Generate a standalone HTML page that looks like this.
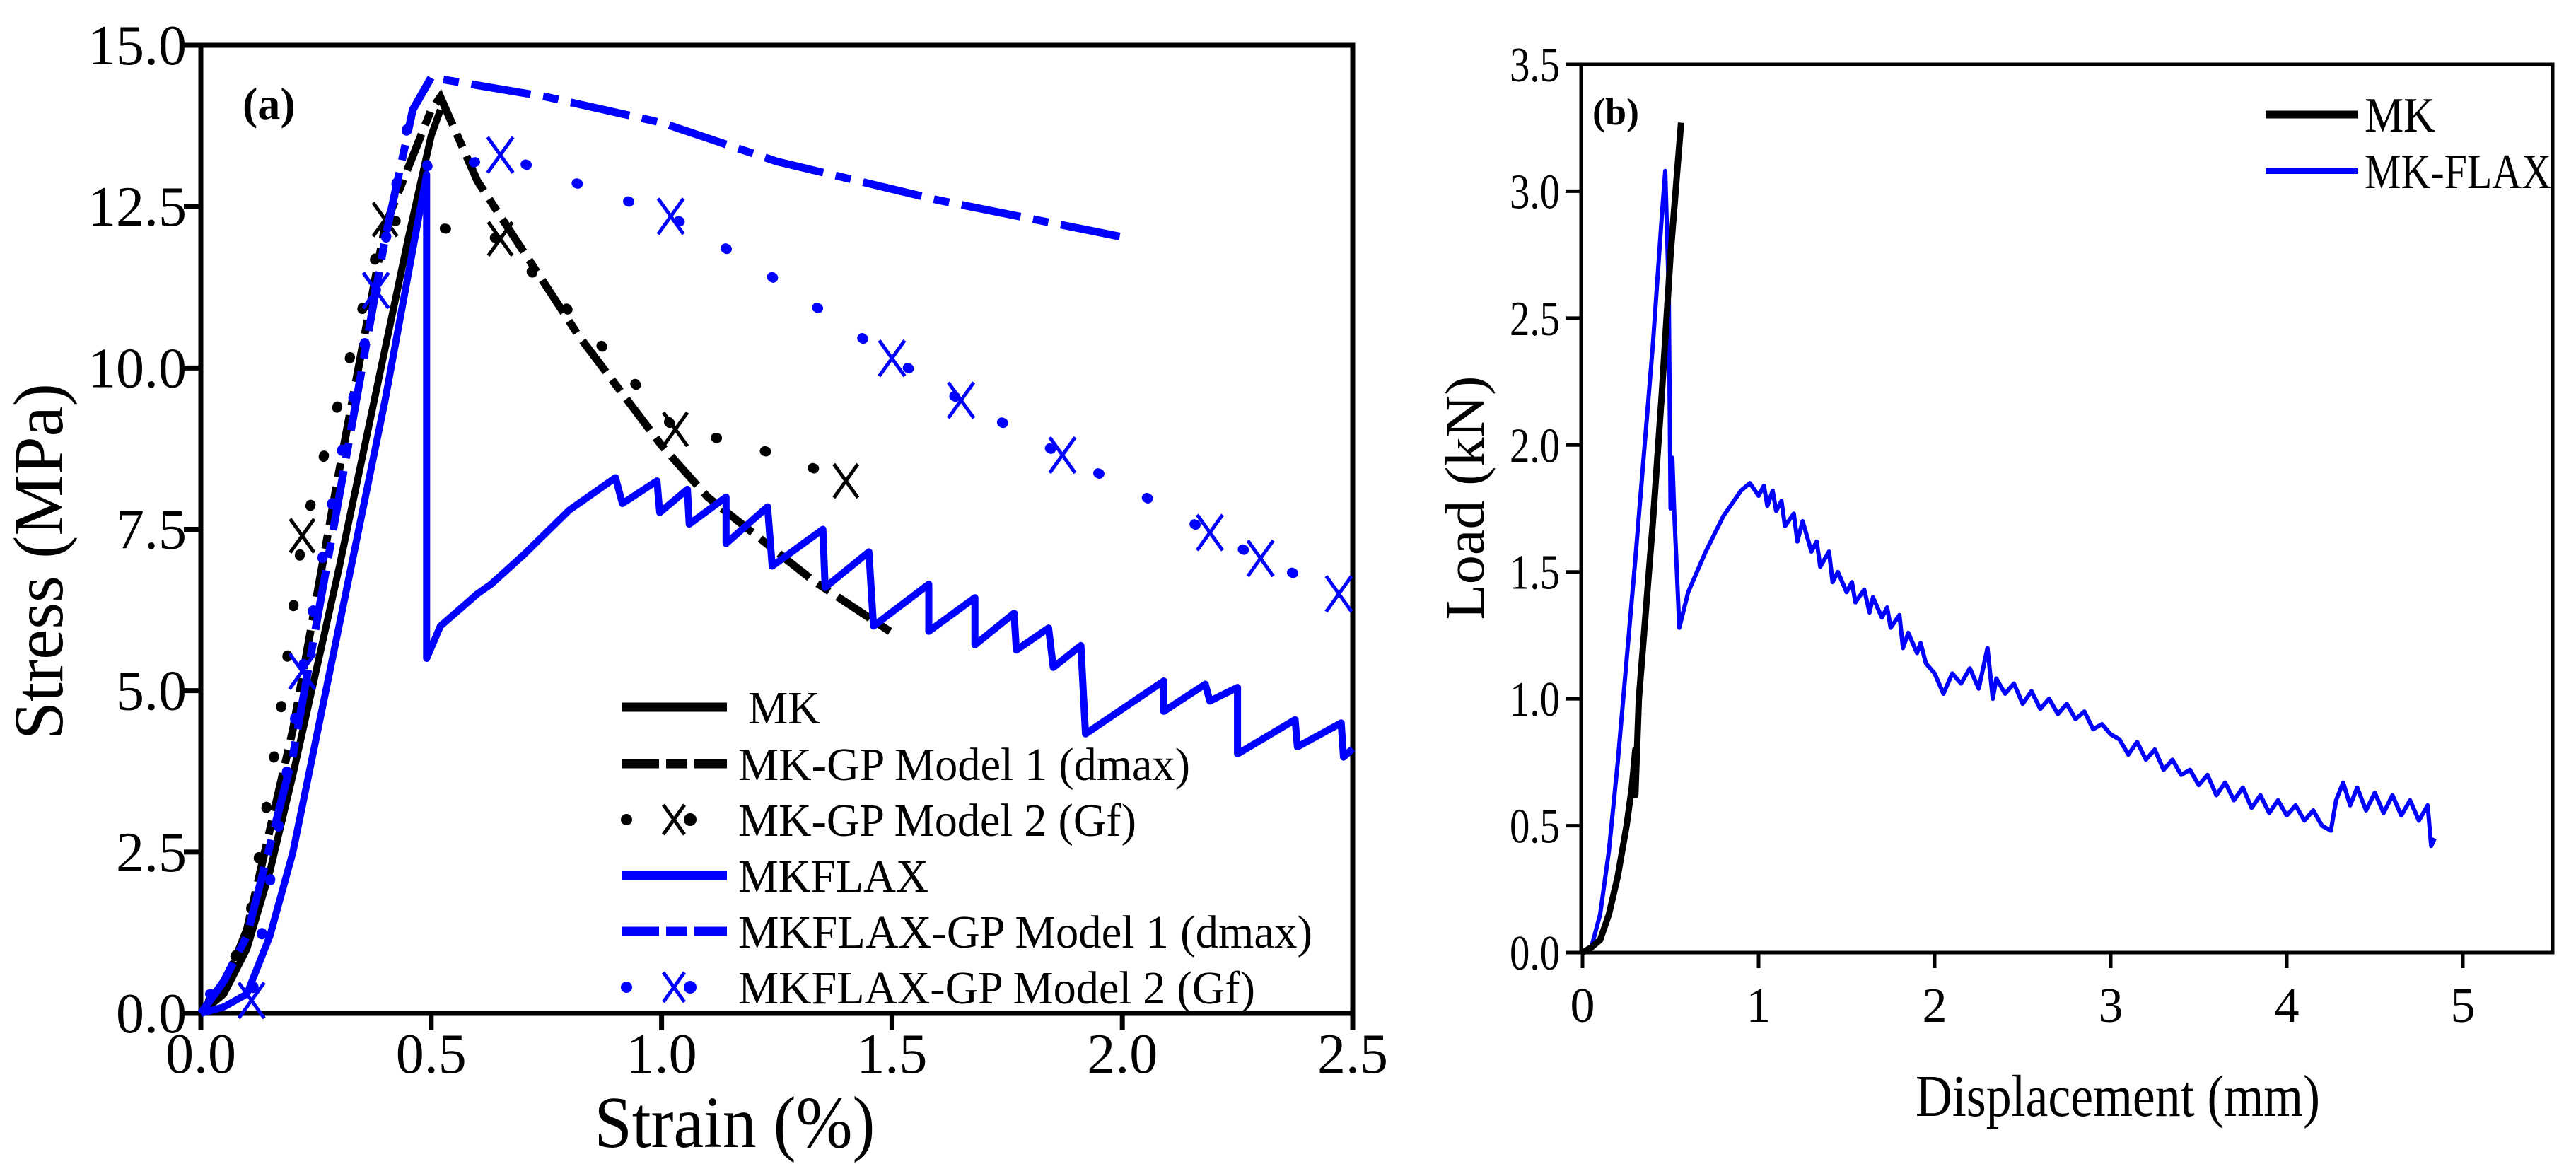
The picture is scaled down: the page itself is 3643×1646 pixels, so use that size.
<!DOCTYPE html>
<html><head><meta charset="utf-8">
<style>
html,body{margin:0;padding:0;background:#fff;}
svg{display:block;font-family:"Liberation Serif",serif;}
</style></head>
<body>
<svg id="chart" width="3643" height="1646" viewBox="0 0 3643 1646" xmlns="http://www.w3.org/2000/svg">
<rect width="3643" height="1646" fill="#fff"/>
<g id="pa"></g>
<g id="pb"></g>
</svg>
<script>
// ---------- Panel (a) data: strain (%) / stress (MPa) ----------
const aXTicks = [0.0, 0.5, 1.0, 1.5, 2.0, 2.5];
const aYTicks = [0.0, 2.5, 5.0, 7.5, 10.0, 12.5, 15.0];
const mkX = [0, 0.05, 0.1, 0.15, 0.2, 0.3, 0.4, 0.45, 0.5, 0.52];
const mkY = [0, 0.3, 1.0, 2.2, 3.7, 6.9, 10.3, 12.0, 13.6, 14.0];
const mkM1X = [0, 0.05, 0.1, 0.2, 0.3, 0.4, 0.5, 0.52, 0.6, 0.82, 1.0, 1.1, 1.33, 1.51];
const mkM1Y = [0, 0.4, 1.3, 4.4, 8.4, 12.2, 14.0, 14.2, 12.9, 10.5, 8.8, 8.0, 6.7, 5.85];
const mkM2X = [0.02, 0.1, 0.17, 0.22, 0.3, 0.4, 0.5, 0.65, 0.85, 1.03, 1.13, 1.26, 1.4];
const mkM2Y = [0.2, 1.2, 4.5, 7.4, 9.5, 12.3, 12.2, 12.0, 10.5, 9.05, 8.9, 8.64, 8.25];
const mkM2MarkX = [0.22, 0.4, 0.65, 1.03, 1.4];
const mkM2MarkY = [7.4, 12.3, 12.0, 9.05, 8.25];
const flaxX = [0, 0.05, 0.1, 0.15, 0.2, 0.3, 0.4, 0.49, 0.49, 0.52, 0.6, 0.63, 0.7, 0.8, 0.9, 0.915, 0.99, 0.996, 1.056, 1.06, 1.14, 1.14, 1.23, 1.24, 1.35, 1.355, 1.45, 1.46, 1.58, 1.58, 1.68, 1.68, 1.765, 1.77, 1.84, 1.85, 1.91, 1.92, 2.09, 2.09, 2.18, 2.19, 2.25, 2.25, 2.375, 2.38, 2.475, 2.48, 2.5];
const flaxY = [0, 0.1, 0.3, 1.2, 2.5, 6.0, 9.5, 13.0, 5.5, 6.0, 6.5, 6.65, 7.1, 7.8, 8.3, 7.9, 8.25, 7.76, 8.12, 7.58, 8.0, 7.28, 7.85, 6.93, 7.5, 6.6, 7.15, 6.0, 6.65, 5.92, 6.44, 5.71, 6.2, 5.63, 5.97, 5.36, 5.7, 4.33, 5.15, 4.68, 5.1, 4.84, 5.05, 4.02, 4.55, 4.13, 4.5, 3.97, 4.1];
const flaxM1X = [0, 0.05, 0.1, 0.2, 0.3, 0.4, 0.46, 0.5, 0.75, 1.0, 1.25, 1.6, 2.02];
const flaxM1Y = [0, 0.5, 1.2, 4.0, 8.0, 12.0, 14.0, 14.5, 14.2, 13.8, 13.2, 12.6, 12.0];
const flaxM2X = [0.02, 0.11, 0.16, 0.22, 0.3, 0.38, 0.45, 0.5, 0.65, 0.8, 1.02, 1.2, 1.5, 1.65, 1.87, 2.05, 2.19, 2.3, 2.47];
const flaxM2Y = [0.3, 0.2, 2.5, 5.3, 8.5, 11.2, 13.8, 13.0, 13.3, 12.9, 12.35, 11.6, 10.15, 9.5, 8.65, 8.0, 7.45, 7.05, 6.5];
const flaxM2MarkX = [0.11, 0.22, 0.38, 0.65, 1.02, 1.5, 1.65, 1.87, 2.19, 2.3, 2.47];
const flaxM2MarkY = [0.2, 5.3, 11.2, 13.3, 12.35, 10.15, 9.5, 8.65, 7.45, 7.05, 6.5];
const aLegendLabels = ["MK", "MK-GP Model 1 (dmax)", "MK-GP Model 2 (Gf)", "MKFLAX", "MKFLAX-GP Model 1 (dmax)", "MKFLAX-GP Model 2 (Gf)"];

// ---------- Panel (b) data: displacement (mm) / load (kN) ----------
const bXTicks = [0, 1, 2, 3, 4, 5];
const bYTicks = [0.0, 0.5, 1.0, 1.5, 2.0, 2.5, 3.0, 3.5];
const bMkX = [0, 0.05, 0.1, 0.15, 0.2, 0.25, 0.28, 0.3, 0.3, 0.32, 0.4, 0.45, 0.5, 0.56];
const bMkY = [0, 0.02, 0.05, 0.15, 0.3, 0.5, 0.65, 0.8, 0.62, 1.0, 1.7, 2.2, 2.75, 3.27];
const bFlaxX = [0, 0.05, 0.1, 0.15, 0.2, 0.3, 0.4, 0.45, 0.47, 0.49, 0.5, 0.51, 0.52, 0.55, 0.6, 0.7, 0.8, 0.9, 0.95, 1.0, 1.03, 1.05, 1.08, 1.1, 1.13, 1.15, 1.2, 1.22, 1.25, 1.3, 1.33, 1.35, 1.4, 1.42, 1.45, 1.5, 1.53, 1.55, 1.6, 1.63, 1.65, 1.7, 1.73, 1.75, 1.8, 1.82, 1.85, 1.9, 1.92, 1.95, 2.0, 2.05, 2.1, 2.15, 2.2, 2.25, 2.3, 2.33, 2.35, 2.4, 2.45, 2.5, 2.55, 2.6, 2.65, 2.7, 2.75, 2.8, 2.85, 2.9, 2.95, 3.0, 3.05, 3.1, 3.15, 3.2, 3.25, 3.3, 3.35, 3.4, 3.45, 3.5, 3.55, 3.6, 3.65, 3.7, 3.75, 3.8, 3.85, 3.9, 3.95, 4.0, 4.05, 4.1, 4.15, 4.2, 4.25, 4.28, 4.32, 4.36, 4.4, 4.45, 4.5, 4.55, 4.6, 4.65, 4.7, 4.75, 4.8, 4.82, 4.84];
const bFlaxY = [0, 0.02, 0.15, 0.4, 0.75, 1.55, 2.4, 2.9, 3.08, 2.6, 1.75, 1.95, 1.75, 1.28, 1.42, 1.58, 1.72, 1.82, 1.85, 1.8, 1.84, 1.76, 1.82, 1.74, 1.78, 1.68, 1.73, 1.62, 1.7, 1.58, 1.62, 1.52, 1.58, 1.46, 1.5, 1.42, 1.46, 1.38, 1.43, 1.34, 1.4, 1.32, 1.36, 1.28, 1.33, 1.2, 1.26, 1.18, 1.22, 1.14, 1.1, 1.02, 1.1, 1.06, 1.12, 1.04, 1.2, 1.0, 1.08, 1.02, 1.06, 0.98, 1.03, 0.96, 1.0, 0.94, 0.98, 0.92, 0.95, 0.88, 0.9, 0.86, 0.84, 0.78, 0.83, 0.76, 0.8, 0.72, 0.76, 0.7, 0.72, 0.66, 0.7, 0.62, 0.67, 0.6, 0.65, 0.57, 0.62, 0.55, 0.6, 0.54, 0.58, 0.52, 0.56, 0.5, 0.48, 0.6, 0.67, 0.58, 0.65, 0.56, 0.63, 0.55, 0.62, 0.54, 0.6, 0.52, 0.58, 0.42, 0.45];
const bLegendLabels = ["MK", "MK-FLAX"];

const NS = "http://www.w3.org/2000/svg";
function mk(tag, attrs, parent) {
  const e = document.createElementNS(NS, tag);
  for (const k in attrs) e.setAttribute(k, attrs[k]);
  parent.appendChild(e);
  return e;
}
const aL = 284, aR = 1913, aT = 64, aB = 1433;
const ax = v => aL + (v / 2.5) * (aR - aL);
const ay = v => aB - (v / 15) * (aB - aT);
const bL = 2236, bR = 3610, bT = 91, bB = 1347, bX0 = 2238, bXU = 249;
const bx = v => bX0 + v * bXU;
const by = v => bB - (v / 3.5) * (bB - bT);

const pa = document.getElementById('pa');
const pb = document.getElementById('pb');

function pathD(xs, ys, fx, fy) {
  return xs.map((x, i) => (i ? 'L' : 'M') + fx(x).toFixed(1) + ' ' + fy(ys[i]).toFixed(1)).join(' ');
}
function xMark(g, cx, cy, s, color, w) {
  const p = mk('path', { d: `M${cx - s} ${cy - s * 1.4} L${cx + s} ${cy + s * 1.4} M${cx + s} ${cy - s * 1.4} L${cx - s} ${cy + s * 1.4}`, stroke: color, 'stroke-width': w, fill: 'none' }, g);
  
  
}

// ---- Panel a frame ----
let fr = mk('rect', { x: aL, y: aT, width: aR - aL, height: aB - aT, fill: 'none', stroke: '#000', 'stroke-width': 7 }, pa);


aYTicks.forEach(v => {
  const t = mk('line', { x1: aL - 24, x2: aL, y1: ay(v), y2: ay(v), stroke: '#000', 'stroke-width': 7 }, pa);
  
  
  const l = mk('text', { x: aL - 20, y: ay(v) + 27, 'text-anchor': 'end', 'font-size': 80 }, pa);
  l.textContent = v.toFixed(1);
  
  
});
aXTicks.forEach(v => {
  const t = mk('line', { x1: ax(v), x2: ax(v), y1: aB, y2: aB + 24, stroke: '#000', 'stroke-width': 7 }, pa);
  
  
  const l = mk('text', { x: ax(v), y: 1517, 'text-anchor': 'middle', 'font-size': 80 }, pa);
  l.textContent = v.toFixed(1);
  
  
});
let t = mk('text', { x: 1039, y: 1622, 'text-anchor': 'middle', 'font-size': 104, textLength: 397, lengthAdjust: 'spacingAndGlyphs' }, pa);
t.textContent = 'Strain (%)';


t = mk('text', { x: 0, y: 0, 'text-anchor': 'middle', 'font-size': 100, textLength: 504, lengthAdjust: 'spacingAndGlyphs', transform: 'translate(88 794) rotate(-90)' }, pa);
t.textContent = 'Stress (MPa)';


t = mk('text', { x: 343, y: 168, 'font-size': 64, 'font-weight': 'bold' }, pa);
t.textContent = '(a)';



const BLUE = '#0000ff';
let s;
s = mk('path', { d: pathD(mkX, mkY, ax, ay), stroke: '#000', 'stroke-width': 10, fill: 'none', 'stroke-linejoin': 'round' }, pa);
 
s = mk('path', { d: pathD(mkM1X, mkM1Y, ax, ay), stroke: '#000', 'stroke-width': 11, fill: 'none', 'stroke-dasharray': '55 14 20 14' }, pa);
 
s = mk('path', { d: pathD(mkM2X, mkM2Y, ax, ay), stroke: '#000', 'stroke-width': 14, fill: 'none', 'stroke-linecap': 'round', 'stroke-dasharray': '2 70' }, pa);
 
mkM2MarkX.forEach((x, i) => xMark(pa, ax(x), ay(mkM2MarkY[i]), 17, '#000', 5));
s = mk('path', { d: pathD(flaxX, flaxY, ax, ay), stroke: BLUE, 'stroke-width': 10, fill: 'none', 'stroke-linejoin': 'round' }, pa);
 
s = mk('path', { d: pathD(flaxM1X, flaxM1Y, ax, ay), stroke: BLUE, 'stroke-width': 11, fill: 'none', 'stroke-dasharray': '85 18 22 18' }, pa);
 
s = mk('path', { d: pathD(flaxM2X, flaxM2Y, ax, ay), stroke: BLUE, 'stroke-width': 14, fill: 'none', 'stroke-linecap': 'round', 'stroke-dasharray': '2 75' }, pa);
 
flaxM2MarkX.forEach((x, i) => xMark(pa, ax(x), ay(flaxM2MarkY[i]), 18, BLUE, 5));

// legend a
const legY = [1000, 1080, 1159, 1238, 1317, 1396];
const legLen = [102, 639, 563, 269, 812, 731];
const legStyle = [
  { c: '#000', da: null }, { c: '#000', da: '52 10 30 10' }, { c: '#000', da: 'dot' },
  { c: BLUE, da: null }, { c: BLUE, da: '52 10 30 10' }, { c: BLUE, da: 'dot' }];
aLegendLabels.forEach((lab, i) => {
  const g = mk('g', {}, pa);
  
  
  const st = legStyle[i], y = legY[i];
  if (st.da === 'dot') {
    mk('circle', { cx: 886, cy: y, r: 8, fill: st.c }, g);
    mk('circle', { cx: 976, cy: y, r: 9, fill: st.c }, g);
    xMark(g, 953, y, 15, st.c, 5);
  } else {
    const a = { x1: 880, x2: 1028, y1: y, y2: y, stroke: st.c, 'stroke-width': 13 };
    if (st.da) a['stroke-dasharray'] = st.da;
    mk('line', a, g);
  }
  const tx = mk('text', { x: i === 0 ? 1058 : 1044, y: y + 23, 'font-size': 66, textLength: legLen[i], lengthAdjust: 'spacingAndGlyphs' }, g);
  tx.textContent = lab;
});

// ---- Panel b frame ----
fr = mk('rect', { x: bL, y: bT, width: bR - bL, height: bB - bT, fill: 'none', stroke: '#000', 'stroke-width': 5 }, pb);


bYTicks.forEach(v => {
  const tk = mk('line', { x1: bL - 22, x2: bL, y1: by(v), y2: by(v), stroke: '#000', 'stroke-width': 5 }, pb);
  
  
  const l = mk('text', { x: bL - 30, y: by(v) + 24, 'text-anchor': 'end', 'font-size': 70, textLength: 71, lengthAdjust: 'spacingAndGlyphs' }, pb);
  l.textContent = v.toFixed(1);
  
  
});
bXTicks.forEach(v => {
  const tk = mk('line', { x1: bx(v), x2: bx(v), y1: bB, y2: bB + 22, stroke: '#000', 'stroke-width': 5 }, pb);
  
  
  const l = mk('text', { x: bx(v), y: 1445, 'text-anchor': 'middle', 'font-size': 70 }, pb);
  l.textContent = String(v);
  
  
});
t = mk('text', { x: 2995, y: 1578, 'text-anchor': 'middle', 'font-size': 84, textLength: 572, lengthAdjust: 'spacingAndGlyphs' }, pb);
t.textContent = 'Displacement (mm)';


t = mk('text', { x: 0, y: 0, 'text-anchor': 'middle', 'font-size': 78, textLength: 345, lengthAdjust: 'spacingAndGlyphs', transform: 'translate(2098 704) rotate(-90)' }, pb);
t.textContent = 'Load (kN)';


t = mk('text', { x: 2252, y: 176, 'font-size': 54, 'font-weight': 'bold' }, pb);
t.textContent = '(b)';



s = mk('path', { d: pathD(bFlaxX, bFlaxY, bx, by), stroke: BLUE, 'stroke-width': 6, fill: 'none', 'stroke-linejoin': 'round' }, pb);
 
s = mk('path', { d: pathD(bMkX, bMkY, bx, by), stroke: '#000', 'stroke-width': 9, fill: 'none', 'stroke-linejoin': 'round' }, pb);
 

const bLegY = [162, 242];
const bLegC = ['#000', BLUE];
const bLegLen = [100, 264];
bLegendLabels.forEach((lab, i) => {
  const g = mk('g', {}, pb);
  
  
  mk('line', { x1: 3204, x2: 3334, y1: bLegY[i], y2: bLegY[i], stroke: bLegC[i], 'stroke-width': i ? 8 : 11 }, g);
  const tx = mk('text', { x: 3344, y: bLegY[i] + 24, 'font-size': 70, textLength: bLegLen[i], lengthAdjust: 'spacingAndGlyphs' }, g);
  tx.textContent = lab;
});
</script>
</body></html>
